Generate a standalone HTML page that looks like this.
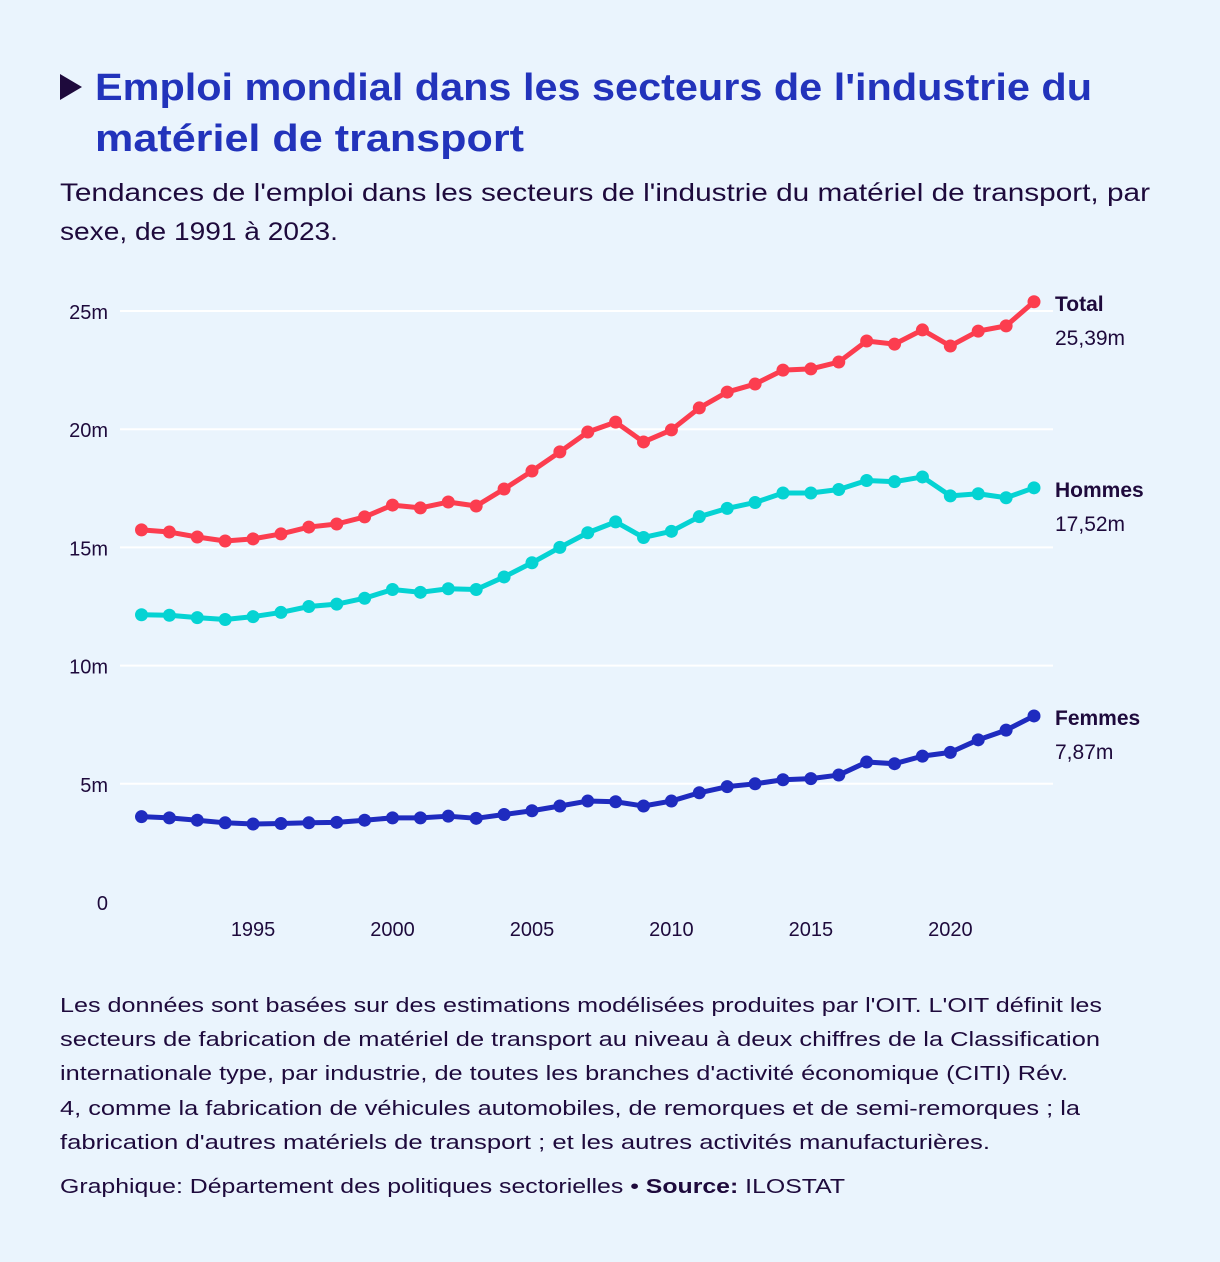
<!DOCTYPE html>
<html><head><meta charset="utf-8"><style>
html,body{margin:0;padding:0;background:#eaf4fd;}
svg{display:block;font-family:"Liberation Sans","DejaVu Sans",sans-serif;}
</style></head><body>
<svg id="chart" width="1220" height="1262" viewBox="0 0 1220 1262" xmlns="http://www.w3.org/2000/svg">
<rect width="1220" height="1262" fill="#eaf4fd"/>
<polygon points="60,74 82,87 60,100" fill="#1e0a3c"/>
<text fill="#2233bb" font-weight="bold" font-size="38">
<tspan x="95" y="100" textLength="997" lengthAdjust="spacingAndGlyphs">Emploi mondial dans les secteurs de l'industrie du</tspan>
<tspan x="95" y="151" textLength="429" lengthAdjust="spacingAndGlyphs">matériel de transport</tspan></text>
<text fill="#1e0a3c" font-size="25">
<tspan x="60" y="201" textLength="1090" lengthAdjust="spacingAndGlyphs">Tendances de l'emploi dans les secteurs de l'industrie du matériel de transport, par</tspan>
<tspan x="60" y="240" textLength="278" lengthAdjust="spacingAndGlyphs">sexe, de 1991 à 2023.</tspan></text>
<g id="grid"></g><g id="axes"></g><g id="series"></g><g id="labels"></g>
<text fill="#1e0a3c" font-size="20">
<tspan x="60" y="1012" textLength="1042" lengthAdjust="spacingAndGlyphs">Les données sont basées sur des estimations modélisées produites par l'OIT. L'OIT définit les</tspan>
<tspan x="60" y="1046" textLength="1040" lengthAdjust="spacingAndGlyphs">secteurs de fabrication de matériel de transport au niveau à deux chiffres de la Classification</tspan>
<tspan x="60" y="1080" textLength="1008" lengthAdjust="spacingAndGlyphs">internationale type, par industrie, de toutes les branches d'activité économique (CITI) Rév.</tspan>
<tspan x="60" y="1115" textLength="1020" lengthAdjust="spacingAndGlyphs">4, comme la fabrication de véhicules automobiles, de remorques et de semi-remorques ; la</tspan>
<tspan x="60" y="1149" textLength="930" lengthAdjust="spacingAndGlyphs">fabrication d'autres matériels de transport ; et les autres activités manufacturières.</tspan></text>
<text fill="#1e0a3c" font-size="20" x="60" y="1193" textLength="785" lengthAdjust="spacingAndGlyphs">Graphique: Département des politiques sectorielles • <tspan font-weight="bold">Source:</tspan> ILOSTAT</text>
</svg>
<script>
const years = [];
for (let y = 1991; y <= 2023; y++) years.push(y);
const totalValues = [15.74,15.65,15.44,15.27,15.36,15.57,15.86,15.99,16.29,16.79,16.67,16.92,16.75,17.47,18.23,19.04,19.88,20.30,19.46,19.97,20.90,21.57,21.91,22.50,22.55,22.84,23.73,23.60,24.20,23.52,24.15,24.37,25.39];
const hommesValues = [12.15,12.13,12.03,11.95,12.07,12.25,12.50,12.60,12.85,13.22,13.10,13.25,13.22,13.75,14.35,15.00,15.62,16.08,15.42,15.68,16.30,16.65,16.90,17.30,17.30,17.45,17.83,17.78,17.98,17.18,17.27,17.10,17.52];
const femmesValues = [3.61,3.56,3.46,3.35,3.30,3.32,3.35,3.37,3.46,3.56,3.56,3.63,3.54,3.70,3.86,4.06,4.27,4.24,4.06,4.27,4.62,4.88,5.00,5.17,5.22,5.37,5.92,5.85,6.17,6.33,6.86,7.27,7.87];
const yTicks = [0,5,10,15,20,25];
const yTickLabels = ["0","5m","10m","15m","20m","25m"];
const xTicks = [1995,2000,2005,2010,2015,2020];
const seriesNames = ["Total","Hommes","Femmes"];
const seriesEndLabels = ["25,39m","17,52m","7,87m"];

const NS = "http://www.w3.org/2000/svg";
const xScale = y => 141.5 + (y - 1991) * (1034 - 141.5) / 32;
const yScale = v => 902 - v * (902 - 311) / 25;
function mk(tag, attrs, parent, text) {
  const e = document.createElementNS(NS, tag);
  for (const k in attrs) e.setAttribute(k, attrs[k]);
  if (text !== undefined) e.textContent = text;
  parent.appendChild(e);
  return e;
}
const grid = document.getElementById('grid'), axes = document.getElementById('axes');
const series = document.getElementById('series'), labels = document.getElementById('labels');
yTicks.forEach((t, i) => {
  if (t > 0) {
    const l = mk('line', {x1:120, x2:1053, y1:yScale(t), y2:yScale(t), stroke:'#ffffff', 'stroke-width':2}, grid);
    
    
  }
  const tx = mk('text', {x:108, y:yScale(t)+8, 'text-anchor':'end', 'font-size':20, fill:'#1e0a3c'}, axes, yTickLabels[i]);
  
  
});
xTicks.forEach(t => {
  const tx = mk('text', {x:xScale(t), y:936, 'text-anchor':'middle', 'font-size':20, fill:'#1e0a3c'}, axes, String(t));
  
  
});
const allSeries = [totalValues, hommesValues, femmesValues];
const colors = ["#fc3d4f","#05d3d3","#1f2bbf"];
allSeries.forEach((vals, s) => {
  const g = mk('g', {}, series);
  
  
  const pts = vals.map((v, i) => xScale(years[i]) + ',' + yScale(v)).join(' ');
  const pl = mk('polyline', {points:pts, fill:'none', stroke:colors[s], 'stroke-width':5, 'stroke-linejoin':'round'}, g);
  
  
  vals.forEach((v, i) => {
    const c = mk('circle', {cx:xScale(years[i]), cy:yScale(v), r:6.5, fill:colors[s]}, g);
    
    
  });
  const last = vals[vals.length - 1];
  const ly = yScale(last);
  const n = mk('text', {x:1055, y:ly+9, 'font-size':21, 'font-weight':'bold', fill:'#1e0a3c'}, labels, seriesNames[s]);
  
  
  const vtx = mk('text', {x:1055, y:ly+43, 'font-size':21, fill:'#1e0a3c'}, labels, seriesEndLabels[s]);
  
  
});
</script>
</body></html>
